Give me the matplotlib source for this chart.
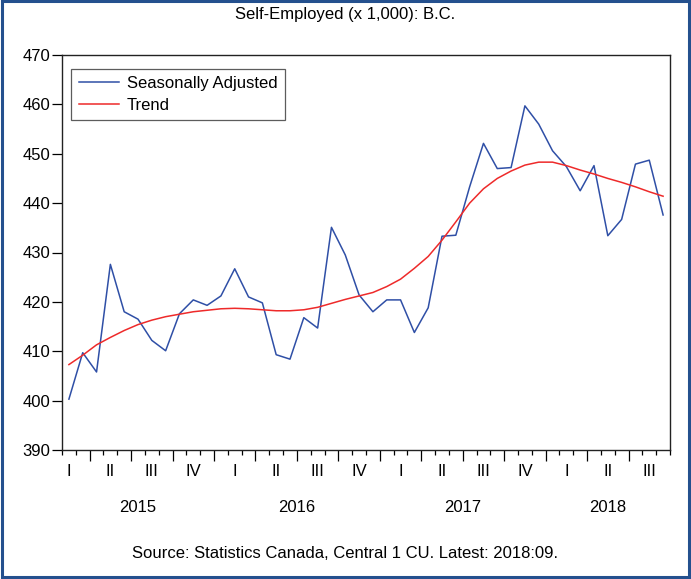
import matplotlib
matplotlib.use("Agg")
import matplotlib.pyplot as plt
import matplotlib.transforms as mtransforms
from matplotlib.patches import Rectangle
import pandas as pd

# monthly data, Feb 2015 .. Sep 2018
months = pd.period_range("2015-02", "2018-09", freq="M")

seas_adj = [400.3, 409.7, 405.8, 427.6, 418.0, 416.5, 412.2, 410.1, 417.6, 420.4,
            419.3, 421.2, 426.7, 421.0, 419.8, 409.3, 408.4, 416.8, 414.7, 435.1,
            429.5, 421.4, 418.0, 420.4, 420.4, 413.8, 418.8, 433.3, 433.5, 443.3,
            452.1, 447.0, 447.2, 459.7, 456.0, 450.6, 447.4, 442.5, 447.6, 433.4,
            436.7, 447.9, 448.7, 437.6]

trend = [407.3, 409.2, 411.3, 412.8, 414.2, 415.4, 416.3, 417.0, 417.5, 418.0,
         418.3, 418.6, 418.7, 418.6, 418.4, 418.2, 418.2, 418.4, 418.9, 419.7,
         420.5, 421.2, 421.9, 423.1, 424.6, 426.8, 429.2, 432.5, 436.2, 440.0,
         442.9, 445.0, 446.5, 447.7, 448.3, 448.3, 447.6, 446.7, 445.9, 445.0,
         444.2, 443.3, 442.3, 441.4]

quarter_names = ["I", "II", "III", "IV"]

plt.rcParams["font.family"] = ["Liberation Sans", "DejaVu Sans"]

fig = plt.figure(figsize=(6.91, 5.79), dpi=100)
ax = fig.add_axes([62 / 691, 1 - 450 / 579, 608 / 691, 395 / 579])

x = list(range(len(months)))
ax.plot(x, seas_adj, color="#2f4fa6", lw=1.1, label="Seasonally Adjusted")
ax.plot(x, trend, color="#ee2a2a", lw=1.1, label="Trend")

ax.set_xlim(-0.5, len(months) - 0.5)
ax.set_ylim(390, 470)
ax.set_yticks(range(390, 471, 10))
ax.tick_params(axis="y", direction="out", length=7, width=0.9, labelsize=12, pad=1.5)

# month ticks (minor) and quarter ticks (major) at period boundaries
bounds = [i - 0.5 for i in range(len(months) + 1)]
qbounds = [i - 0.5 for i, p in enumerate(months) if p.month in (1, 4, 7, 10)]
ax.set_xticks(qbounds)
ax.set_xticks(bounds, minor=True)
ax.set_xticklabels([])
ax.tick_params(axis="x", which="major", direction="out", length=8, width=0.9)
ax.tick_params(axis="x", which="minor", direction="out", length=3.5, width=0.9)
ax.tick_params(right=False, top=False)

for s in ax.spines.values():
    s.set_linewidth(1.0)
    s.set_color("#222222")

trans = mtransforms.blended_transform_factory(ax.transData, fig.transFigure)
# quarter labels at the middle month of each quarter
for i, p in enumerate(months):
    if p.month in (2, 5, 8, 11):
        ax.text(i, 1 - 471 / 579, quarter_names[(p.month - 1) // 3], transform=trans,
                ha="center", va="center", fontsize=12)
# year labels centred on their span
for yr in sorted(set(p.year for p in months)):
    idx = [i for i, p in enumerate(months) if p.year == yr]
    ax.text((idx[0] + idx[-1]) / 2, 1 - 508 / 579, str(yr), transform=trans,
            ha="center", va="center", fontsize=12)

leg = ax.legend(loc="upper left", bbox_to_anchor=(0.015, 0.965), borderaxespad=0,
                fontsize=12, frameon=True, fancybox=False, edgecolor="#333333",
                handlelength=2.4, borderpad=0.45, labelspacing=0.4, handletextpad=0.5)
leg.get_frame().set_linewidth(0.9)

fig.text(0.5, 1 - 14 / 579, "Self-Employed (x 1,000): B.C.", ha="center", va="center",
         fontsize=12)
fig.text(0.5, 1 - 553 / 579, "Source: Statistics Canada, Central 1 CU. Latest: 2018:09.",
         ha="center", va="center", fontsize=12)

fig.patches.append(Rectangle((0.003, 0.003), 0.994, 0.995, transform=fig.transFigure,
                             fill=False, edgecolor="#24508e", lw=2.2))

fig.savefig("out.png", dpi=100)
